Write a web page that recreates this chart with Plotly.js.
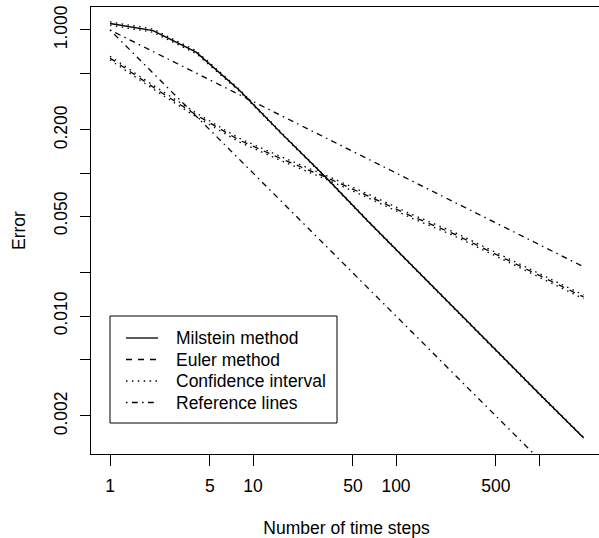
<!DOCTYPE html>
<html>
<head>
<meta charset="utf-8">
<script src="https://cdn.plot.ly/plotly-3.0.1.min.js"></script>
<style>
html, body { margin: 0; padding: 0; overflow: hidden; background: #fff; }
#chart { width: 603px; height: 538px; }
</style>
</head>
<body>
<div id="chart"></div>
<script>
// Data
var steps = [1, 2, 4, 8, 16, 32, 64, 128, 256, 512, 1024, 2048];

var milstein      = [1.11, 0.99, 0.70, 0.38, 0.187, 0.094, 0.0458, 0.0227, 0.0114, 0.0056, 0.0028, 0.00141];
var milsteinUpper = [1.140, 1.015, 0.716, 0.386, 0.189, 0.0950, 0.0462, 0.0229, 0.01150, 0.00565, 0.00283, 0.00142];
var milsteinLower = [1.080, 0.965, 0.684, 0.374, 0.185, 0.0930, 0.0454, 0.0225, 0.01130, 0.00555, 0.00277, 0.00140];

var euler      = [0.637, 0.399, 0.255, 0.170, 0.125, 0.0938, 0.0690, 0.0500, 0.0374, 0.0267, 0.0190, 0.0136];
var eulerUpper = [0.656, 0.411, 0.263, 0.175, 0.129, 0.0966, 0.0711, 0.0515, 0.0385, 0.0275, 0.0196, 0.0140];
var eulerLower = [0.618, 0.387, 0.247, 0.165, 0.121, 0.0910, 0.0669, 0.0485, 0.0363, 0.0259, 0.0184, 0.0132];

var refHalf = [1, 0.7071, 0.5, 0.3536, 0.25, 0.1768, 0.125, 0.0884, 0.0625, 0.0442, 0.03125, 0.0221];
var refOne  = [1, 0.5, 0.25, 0.125, 0.0625, 0.03125, 0.015625, 0.0078125, 0.00390625, 0.001953, 0.000977, 0.000488];

var xTickVals = [1, 5, 10, 50, 100, 500, 1000];
var xTickText = ['1', '5', '10', '50', '100', '500', ''];
var yTickVals = [1, 0.5, 0.2, 0.1, 0.05, 0.02, 0.01, 0.005, 0.002];
var yTickText = ['1.000', '', '0.200', '', '0.050', '', '0.010', '', '0.002'];

var names = ['Milstein method', 'Euler method', 'Confidence interval', 'Reference lines'];

var FONT = 'Liberation Sans, Arial, Helvetica, sans-serif';
var LW = 1.3;
var DASHED = '6px,6px';
var DOTTED = '1.5px,4.4px';
var DOTDASH = '1.5px,4.4px,5.8px,4.4px';
var legendDashes = ['solid', DASHED, DOTTED, DOTDASH];

function tr(y, name, dash, w) {
  return {
    x: steps, y: y, type: 'scatter', mode: 'lines', name: name,
    showlegend: false, hoverinfo: 'skip',
    line: { color: '#000', width: w || LW, dash: dash }
  };
}

var traces = [
  tr(milstein, names[0], 'solid', 1.4),
  tr(euler, names[1], DASHED),
  tr(milsteinUpper, names[2], DOTTED),
  tr(milsteinLower, names[2], DOTTED),
  tr(eulerUpper, names[2], DOTTED),
  tr(eulerLower, names[2], DOTTED),
  tr(refHalf, names[3], DOTDASH),
  tr(refOne, names[3], DOTDASH)
];

// Plot-area geometry (pixels) used to place the hand-drawn R-style legend
var M = { l: 91, r: 1, t: 7, b: 84 };
var W = 603, H = 538;
var PW = W - M.l - M.r, PH = H - M.t - M.b;
function px(x) { return (x - M.l) / PW; }
function py(y) { return (H - M.b - y) / PH; }

var shapes = [{
  type: 'rect', xref: 'paper', yref: 'paper',
  x0: px(110), x1: px(337), y0: py(316), y1: py(423),
  line: { color: '#000', width: 1 }, fillcolor: '#fff', layer: 'above'
}];
var annotations = [];
var rowY = [338, 359.5, 381, 402.5];
for (var i = 0; i < names.length; i++) {
  shapes.push({
    type: 'line', xref: 'paper', yref: 'paper',
    x0: px(126), x1: px(158), y0: py(rowY[i]), y1: py(rowY[i]),
    line: { color: '#000', width: LW, dash: legendDashes[i] }, layer: 'above'
  });
  annotations.push({
    xref: 'paper', yref: 'paper', x: px(174), y: py(rowY[i]),
    xanchor: 'left', yanchor: 'middle', showarrow: false, text: names[i],
    font: { family: FONT, size: 17.5, color: '#000' }
  });
}

var layout = {
  width: W, height: H,
  margin: { l: M.l, r: M.r, t: M.t, b: M.b, pad: 0 },
  paper_bgcolor: '#fff', plot_bgcolor: '#fff',
  font: { family: FONT, size: 17.5, color: '#000' },
  showlegend: false,
  shapes: shapes,
  annotations: annotations,
  xaxis: {
    type: 'log', range: [-0.1329, 3.4406],
    tickmode: 'array', tickvals: xTickVals, ticktext: xTickText,
    ticks: 'outside', ticklen: 11, tickwidth: 1, tickcolor: '#000',
    ticklabelstandoff: 5,
    showgrid: false, zeroline: false,
    showline: true, linecolor: '#000', linewidth: 1, mirror: true,
    title: { text: 'Number of time steps', font: { family: FONT, size: 17.5, color: '#000' }, standoff: 37 },
    tickfont: { family: FONT, size: 17.5, color: '#000' }
  },
  yaxis: {
    type: 'log', range: [-2.965, 0.1608],
    tickmode: 'array', tickvals: yTickVals, ticktext: yTickText,
    ticks: 'outside', ticklen: 10, tickwidth: 1, tickcolor: '#000',
    tickangle: -90, ticklabelstandoff: 6,
    showgrid: false, zeroline: false,
    showline: true, linecolor: '#000', linewidth: 1, mirror: true,
    title: { text: 'Error', font: { family: FONT, size: 17.5, color: '#000' }, standoff: 20 },
    tickfont: { family: FONT, size: 17.5, color: '#000' }
  }
};

Plotly.newPlot('chart', traces, layout, { staticPlot: true, displayModeBar: false });
</script>
</body>
</html>
